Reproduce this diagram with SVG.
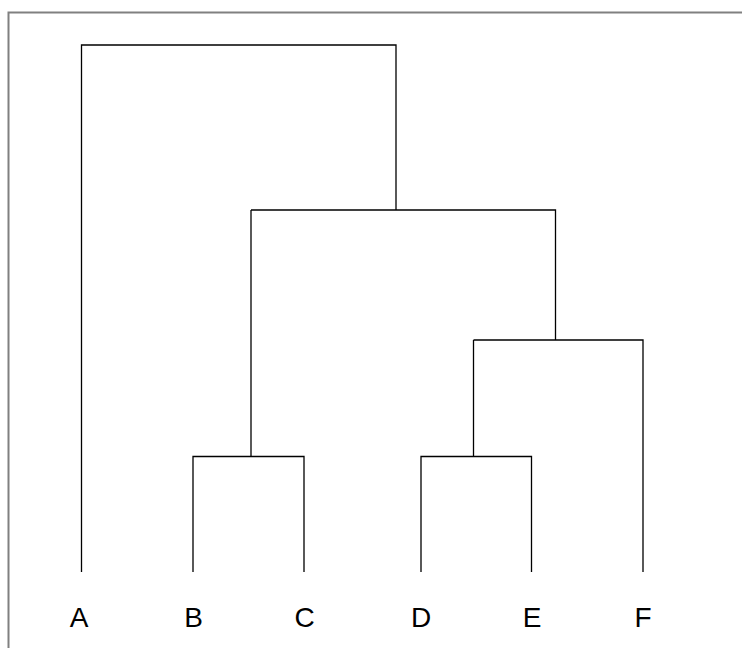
<svg xmlns="http://www.w3.org/2000/svg" width="742" height="648" viewBox="0 0 742 648">
<style>
.frame{fill:none;stroke:#808080;stroke-width:2}
.edge{fill:none;stroke:#000;stroke-width:1.3}
.lbl{font-family:"Liberation Sans",Arial,sans-serif;font-size:28px;fill:#000;text-anchor:middle}
</style>
<rect width="742" height="648" fill="#fff"/>
<path class="frame" d="M8.5,648 V12.5 H742"/>
<g id="connectors">
<path class="edge" d="M81.5,572 V45 H396 V210"/>
<path class="edge" d="M251,210 H555.5 V340"/>
<path class="edge" d="M251,210 V456.5"/>
<path class="edge" d="M193,572 V456.5 H304 V572"/>
<path class="edge" d="M473.5,340 H643 V572"/>
<path class="edge" d="M473.5,340 V456.5"/>
<path class="edge" d="M421,572 V456.5 H531.5 V572"/>
</g>
<g id="A"><text class="lbl" x="79" y="626.5">A</text></g>
<g id="B"><text class="lbl" x="193.5" y="626.5">B</text></g>
<g id="C"><text class="lbl" x="304.5" y="626.5">C</text></g>
<g id="D"><text class="lbl" x="421" y="626.5">D</text></g>
<g id="E"><text class="lbl" x="532" y="626.5">E</text></g>
<g id="F"><text class="lbl" x="643" y="626.5">F</text></g>
</svg>
